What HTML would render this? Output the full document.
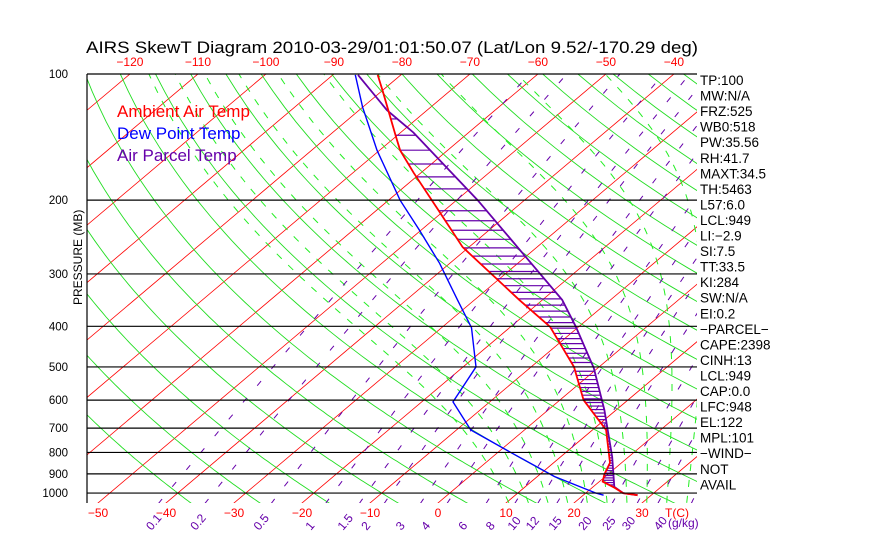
<!DOCTYPE html>
<html><head><meta charset="utf-8"><style>
body{margin:0;background:#fff;width:870px;height:560px;overflow:hidden}
svg{display:block;font-family:"Liberation Sans",sans-serif}
</style></head><body>
<svg id="chart" width="870" height="560" viewBox="0 0 870 560">
<text x="86" y="53" font-size="16.5" fill="#000" textLength="612" lengthAdjust="spacingAndGlyphs">AIRS SkewT Diagram 2010-03-29/01:01:50.07 (Lat/Lon 9.52/-170.29 deg)</text>
<text transform="translate(82,305) rotate(-90)" font-size="12" fill="#000">PRESSURE (MB)</text>
<g id="bg"></g>
<g id="series"></g>
<g id="axes"></g>
<g font-size="17">
<text x="117" y="117" fill="#f00">Ambient Air Temp</text>
<text x="117" y="139" fill="#00f">Dew Point Temp</text>
<text x="117" y="161" fill="#60a">Air Parcel Temp</text>
</g>
<g id="stats" font-size="13.5" fill="#000"></g>
</svg>
<script>
const pressureLevels=[100,200,300,400,500,600,700,800,900,1000];
const topTempTicks=[-120,-110,-100,-90,-80,-70,-60,-50,-40];
const bottomTempTicks=[-50,-40,-30,-20,-10,0,10,20,30];
const mixingRatios=[0.1,0.2,0.5,1,1.5,2,3,4,6,8,10,12,15,20,25,30,40];
const ambientP=[100.5,110,141,152,172,211,259,346,401,500,600,707,847,903,939,971,1000,1012];
const ambientT=[-83.4,-79.8,-70.0,-67.0,-61.1,-51.0,-40.9,-23.4,-14.2,-3.7,3.5,12.0,18.3,19.5,20.5,23.3,25.5,28.0];
const parcelP=[100.5,122,138,200,346,401,503,634,820,966,1000,1012];
const parcelT=[-86.3,-75.9,-68.1,-46.9,-17.1,-10.4,-0.6,8.3,17.6,23.1,25.5,28.0];
const dewP=[100.5,120,152,200,236,283,346,403,500,606,707,801,913,1000,1012];
const dewT=[-86.7,-80.0,-70.4,-58.3,-50.2,-41.5,-32.5,-25.6,-18.1,-15.4,-7.9,2.0,12.5,21.5,23.0];
const statLabels=["TP:100","MW:N/A","FRZ:525","WB0:518","PW:35.56","RH:41.7","MAXT:34.5","TH:5463","L57:6.0","LCL:949","LI:\u22122.9","SI:7.5","TT:33.5","KI:284","SW:N/A","EI:0.2","\u2212PARCEL\u2212","CAPE:2398","CINH:13","LCL:949","CAP:0.0","LFC:948","EL:122","MPL:101","\u2212WIND\u2212"," NOT"," AVAIL"];

const NS="http://www.w3.org/2000/svg";
const X0=87,X1=697,Y0=74,Y1=503;
function yOf(p){return 74+182*Math.log(p/100);}
function xOf(T,p){return 438+6.8*T+(503-yOf(p))*1.184;}
function mk(tag,attrs,parent){const e=document.createElementNS(NS,tag);for(const k in attrs)e.setAttribute(k,attrs[k]);parent.appendChild(e);return e;}
const svg=document.getElementById('chart');
const defs=mk('defs',{},svg);
const cp=mk('clipPath',{id:'plotclip'},defs);
mk('rect',{x:X0,y:Y0,width:X1-X0,height:Y1-Y0},cp);
const bg=document.getElementById('bg');bg.setAttribute('clip-path','url(#plotclip)');
const series=document.getElementById('series');series.setAttribute('clip-path','url(#plotclip)');
const axes=document.getElementById('axes');
function pathFrom(pts){return pts.map((q,i)=>(i?'L':'M')+q[0].toFixed(1)+' '+q[1].toFixed(1)).join('');}
const PTOP=95,PBOT=1060;
for(let T=-170;T<=60;T+=10){
  const e=mk('line',{x1:xOf(T,PBOT),y1:yOf(PBOT),x2:xOf(T,PTOP),y2:yOf(PTOP),stroke:'#f00','stroke-width':0.8},bg);
  
  
}
for(let th=-40;th<=200;th+=10){
  const pts=[];for(let p=PBOT;p>=PTOP;p-=10){const T=(th+273.15)*Math.pow(p/1000,0.286)-273.15;pts.push([xOf(T,p),yOf(p)]);}
  const e=mk('path',{d:pathFrom(pts),fill:'none',stroke:'#2d2','stroke-width':0.9},bg);
  
  
}
function es(T){return 6.112*Math.exp(17.67*T/(T+243.5));}
for(let tw=8;tw<=44;tw+=3){
  const T=tw+273.15,p=1000;const up=[],down=[];
  function step(T,p,dp){const rs=0.622*es(T-273.15)/(p-es(T-273.15));const Rd=287,cp=1005,L=2.5e6;
    const dTdlnp=(Rd*T+L*rs)/(cp+L*L*rs*0.622/(Rd*T*T));return T+dTdlnp*(dp/p);}
  let Tc=T,pc=p;while(pc>PTOP){up.push([xOf(Tc-273.15,pc),yOf(pc)]);Tc=step(Tc,pc,-5);pc-=5;}
  Tc=T;pc=p;while(pc<PBOT){down.unshift([xOf(Tc-273.15,pc),yOf(pc)]);Tc=step(Tc,pc,5);pc+=5;}
  const e=mk('path',{d:pathFrom(down.concat(up)),fill:'none',stroke:'#2e2','stroke-width':1,'stroke-dasharray':'7,9'},bg);
  
  
}
function tdFor(w,p){const e=w*p/(622+w);const l=Math.log(e/6.112);return 243.5*l/(17.67-l);}
mixingRatios.forEach((w,i)=>{
  const pts=[];for(let p=PBOT;p>=PTOP;p-=10){pts.push([xOf(tdFor(w,p),p),yOf(p)]);}
  const e=mk('path',{d:pathFrom(pts),fill:'none',stroke:'#60a','stroke-width':1,'stroke-dasharray':'6,16'},bg);
  
  
  const xc=xOf(tdFor(w,1000),1000);
  const lx=143+(xc-154)*0.959-4;
  const t=mk('text',{transform:`translate(${lx.toFixed(1)},${531}) rotate(-50)`,'font-size':12,fill:'#60a'},axes);
  t.textContent=String(w);
  
  
});
pressureLevels.forEach(p=>{
  const y=yOf(p);
  const l=mk('line',{x1:X0,y1:y,x2:X1,y2:y,stroke:'#000','stroke-width':1.2},axes);
  
  
  const t=mk('text',{x:68,y:y+4,'font-size':11.5,'text-anchor':'end',fill:'#000'},axes);
  t.textContent=String(p);
  
  
});
const ln=mk('line',{x1:X0,y1:Y0,x2:X0,y2:Y1,stroke:'#000','stroke-width':1.2},axes);


topTempTicks.forEach(T=>{
  const t=mk('text',{x:xOf(T,100),y:66,'font-size':12,'text-anchor':'middle',fill:'#f00'},axes);
  t.textContent=String(T).replace('-','\u2212');
  
  
});
bottomTempTicks.forEach(T=>{
  const t=mk('text',{x:438+6.8*T,y:517,'font-size':12,'text-anchor':'middle',fill:'#f00'},axes);
  t.textContent=String(T).replace('-','\u2212');
  
  
});
const tc=mk('text',{x:665,y:517,'font-size':12,fill:'#f00'},axes);tc.textContent='T(C)';


const gk=mk('text',{x:668,y:527,'font-size':12,fill:'#60a'},axes);gk.textContent='(g/kg)';


function interp(P,T,p){for(let i=0;i<P.length-1;i++){if(p>=P[i]&&p<=P[i+1]){const f=(Math.log(p)-Math.log(P[i]))/(Math.log(P[i+1])-Math.log(P[i]));return T[i]+f*(T[i+1]-T[i]);}}return null;}
for(let p=104;p<=1010;p+=12){
  const a=interp(ambientP,ambientT,p),b=interp(parcelP,parcelT,p);
  if(a==null||b==null||b<=a+0.3)continue;
  const h=mk('line',{x1:xOf(a,p),y1:yOf(p),x2:xOf(b,p),y2:yOf(p),stroke:'#60a','stroke-width':1.2},series);
  
  
}
function curve(P,T,color,name,w){
  const e=mk('path',{d:pathFrom(P.map((p,i)=>[xOf(T[i],p),yOf(p)])),fill:'none',stroke:color,'stroke-width':w},series);
  
  
}
curve(dewP,dewT,'#00f','dew-point-line',1.4);
curve(parcelP,parcelT,'#60a','parcel-temp-line',1.8);
curve(ambientP,ambientT,'#f00','ambient-temp-line',1.8);
const st=document.getElementById('stats');
statLabels.forEach((s,i)=>{
  const t=mk('text',{x:700,y:85+i*15.55,'xml:space':'preserve'},st);
  t.textContent=s;
  
  
});
</script>
</body></html>
